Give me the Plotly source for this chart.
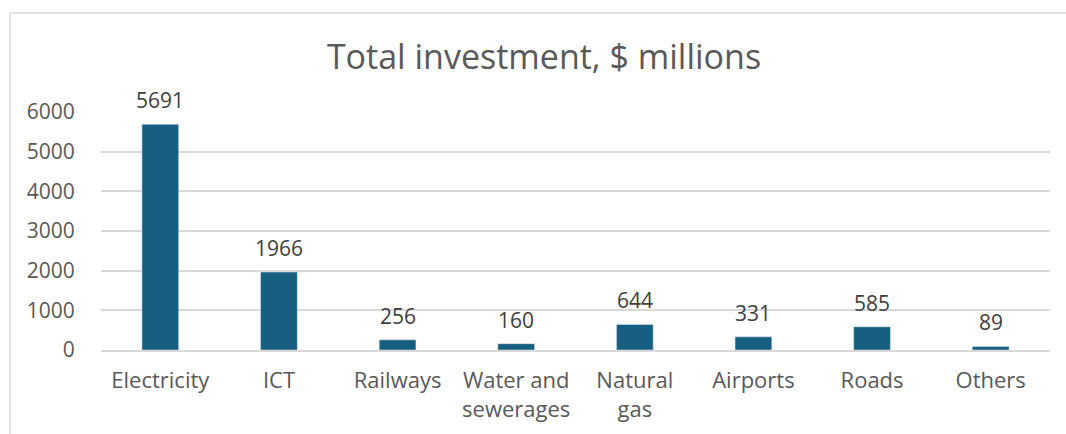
import plotly.graph_objects as go

categories = ["Electricity", "ICT", "Railways", "Water and<br>sewerages", "Natural<br>gas", "Airports", "Roads", "Others"]
values = [5691, 1966, 256, 160, 644, 331, 585, 89]
y_ticks = [0, 1000, 2000, 3000, 4000, 5000, 6000]

W, H = 1066, 434
L, R, T, B = 101, 16, 112, 84
pw, ph = W - L - R, H - T - B
FONT = "Open Sans"

fig = go.Figure(go.Bar(
    x=categories, y=values,
    marker=dict(color="#175f80"),
    width=0.31,
    cliponaxis=False,
))

for c, v in zip(categories, values):
    fig.add_annotation(x=c, y=v, text=str(v), showarrow=False,
                       yanchor="bottom", yshift=8,
                       font=dict(size=21, color="#404040", family=FONT))

fig.update_layout(
    width=W, height=H,
    margin=dict(l=L, r=R, t=T, b=B),
    paper_bgcolor="white", plot_bgcolor="white",
    title=dict(text="Total investment, $ millions", x=544 / W, xanchor="center",
               y=1 - 57 / H, yanchor="middle",
               font=dict(size=34, color="#595959", family=FONT)),
    font=dict(family=FONT, color="#595959", size=21),
    showlegend=False,
    bargap=0.69,
    xaxis=dict(showgrid=False, showline=True, linecolor="#d9d9d9", linewidth=1.5,
               ticks="outside", ticklen=10, tickcolor="rgba(0,0,0,0)",
               tickfont=dict(size=22, color="#595959")),
    yaxis=dict(range=[0, 6000], tickvals=y_ticks, showgrid=True, gridcolor="#d9d9d9",
               gridwidth=1.5, zeroline=False, showline=False,
               ticks="outside", ticklen=21, tickcolor="rgba(0,0,0,0)",
               tickfont=dict(size=21, color="#595959")),
    shapes=[dict(type="rect", xref="paper", yref="paper",
                 x0=(10 - L) / pw, x1=(W + 20 - L) / pw,
                 y0=-(H + 20 - (H - B)) / ph, y1=((H - B) - 13) / ph,
                 line=dict(color="#d9d9d9", width=1.5), fillcolor="rgba(0,0,0,0)",
                 layer="below")],
)

fig.write_html("out.html")
